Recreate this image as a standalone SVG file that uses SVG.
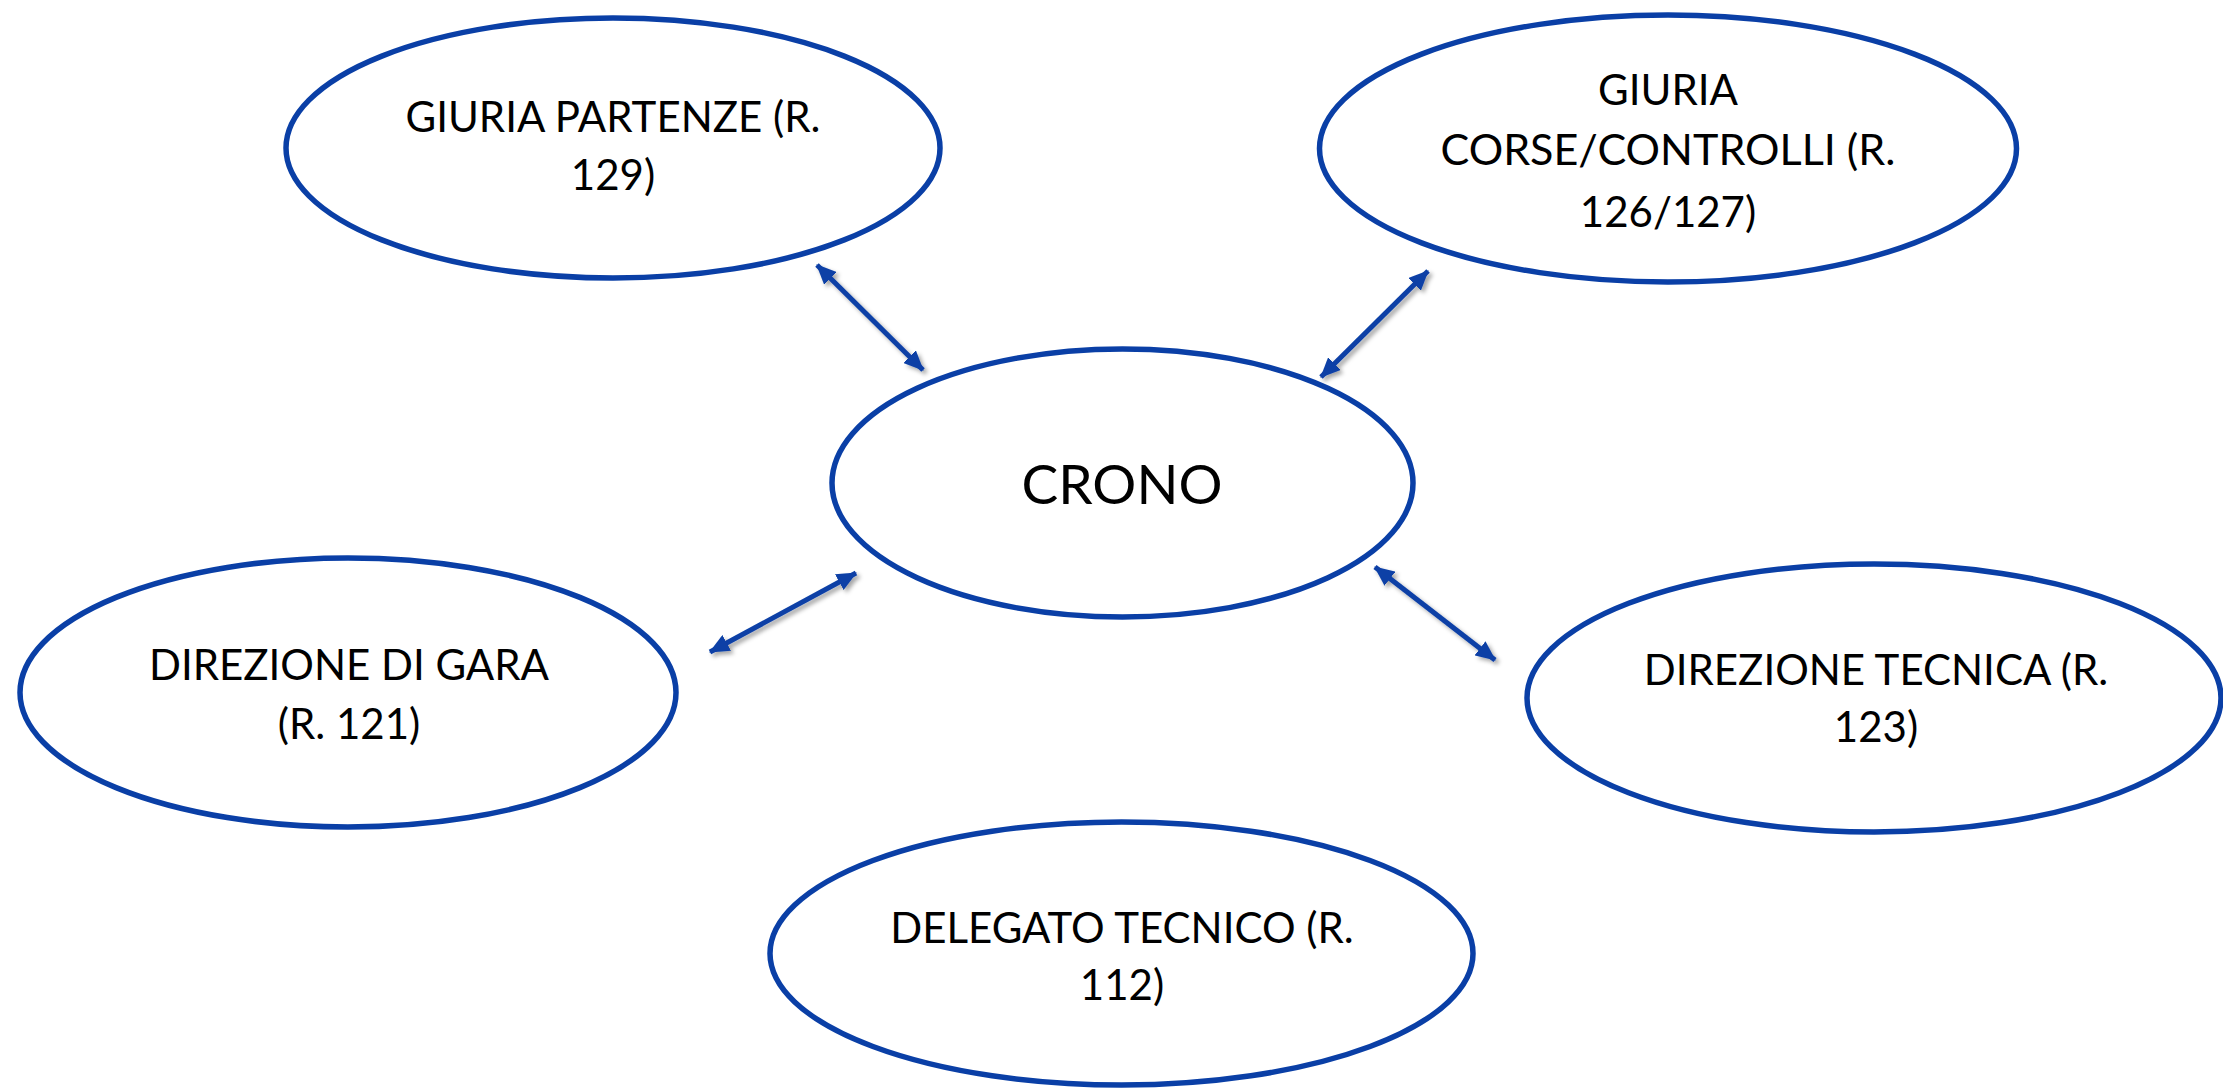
<svg xmlns="http://www.w3.org/2000/svg" width="2223" height="1088" viewBox="0 0 2223 1088">
<style>
.node ellipse{fill:#ffffff;stroke:#0a3fa6;stroke-width:5.5}
.node text{font-family:Lato,"Liberation Sans",sans-serif;font-size:42px;fill:#000;text-anchor:middle}
.node text.big{font-size:55px}
.conn line{stroke:#0a3fa6;stroke-width:5;marker-start:url(#head);marker-end:url(#head);filter:url(#sh)}
</style>
<defs>
<marker id="head" markerUnits="userSpaceOnUse" markerWidth="20" markerHeight="18" refX="19" refY="9" orient="auto-start-reverse" viewBox="0 0 20 18">
<path d="M0,0 L20,9 L0,18 Z" fill="#0a3fa6"/>
</marker>
<filter id="sh" x="-20%" y="-20%" width="140%" height="140%">
<feDropShadow dx="3" dy="3" stdDeviation="2" flood-color="#000" flood-opacity="0.35"/>
</filter>
</defs>
<rect width="2223" height="1088" fill="#fff"/>
<g id="connectors" class="conn">
<line x1="817" y1="265" x2="923" y2="370"/>
<line x1="1428" y1="271" x2="1321" y2="377"/>
<line x1="710" y1="652" x2="856" y2="573"/>
<line x1="1375" y1="567" x2="1495" y2="660"/>
<line x1="1122" y1="639" x2="1122" y2="778"/>
</g>
<g id="giuria-partenze" class="node">
<ellipse cx="613" cy="148" rx="327" ry="130"/>
<text x="613" y="132">GIURIA PARTENZE (R.</text>
<text x="613" y="190">129)</text>
</g>
<g id="giuria-corse" class="node">
<ellipse cx="1668" cy="148.5" rx="348.5" ry="133.5"/>
<text x="1668" y="105">GIURIA</text>
<text x="1668" y="165" textLength="455" lengthAdjust="spacingAndGlyphs">CORSE/CONTROLLI (R.</text>
<text x="1668" y="227">126/127)</text>
</g>
<g id="crono" class="node">
<ellipse cx="1122.5" cy="483" rx="290.5" ry="134"/>
<text class="big" x="1122" y="504">CRONO</text>
</g>
<g id="direzione-gara" class="node">
<ellipse cx="348" cy="692.5" rx="328" ry="134.5"/>
<text x="349" y="680">DIREZIONE DI GARA</text>
<text x="349" y="739">(R. 121)</text>
</g>
<g id="direzione-tecnica" class="node">
<ellipse cx="1874" cy="698" rx="347" ry="134"/>
<text x="1876" y="685">DIREZIONE TECNICA (R.</text>
<text x="1876" y="742">123)</text>
</g>
<g id="delegato-tecnico" class="node">
<ellipse cx="1121.5" cy="953.5" rx="351.5" ry="131.5"/>
<text x="1122" y="943">DELEGATO TECNICO (R.</text>
<text x="1122" y="1000">112)</text>
</g>
</svg>
